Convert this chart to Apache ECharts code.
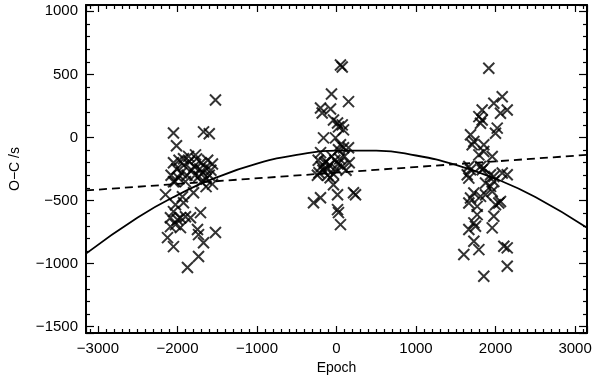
<!DOCTYPE html>
<html>
<head>
<meta charset="utf-8">
<script src="https://cdn.jsdelivr.net/npm/echarts@6/dist/echarts.min.js"></script>
<style>
  html, body { margin: 0; padding: 0; background: #fff; }
  #chart { width: 600px; height: 380px; }
</style>
</head>
<body>
<div id="chart"></div>
<script>
// observations [epoch, O-C], three groups
var groupA = [
  [-2050, 36], [-1672, 44], [-1600, 30], [-2012, -66], [-1522, 297], [-1924, -169], [-1773, -138],
  [-2050, -200], [-2010, -250], [-1980, -180], [-1950, -280], [-1920, -220], [-1880, -300],
  [-1850, -190], [-1820, -260], [-1790, -230], [-1760, -170], [-1730, -310], [-1700, -200],
  [-1680, -280], [-1650, -240], [-1620, -180], [-1600, -300], [-1580, -260], [-1560, -210],
  [-2080, -300], [-2030, -350], [-1990, -320], [-1900, -350], [-1700, -350], [-1640, -330],
  [-1860, -150], [-1780, -300], [-1720, -250], [-1640, -390], [-1560, -370],
  [-2050, -351], [-2150, -453], [-1937, -470], [-1798, -438], [-2025, -533], [-1924, -517],
  [-2050, -588], [-1962, -636], [-2088, -636], [-2000, -652], [-1899, -628], [-1836, -636],
  [-1710, -596], [-2025, -691], [-2088, -707], [-1962, -715], [-1748, -730], [-1735, -770],
  [-1522, -754], [-2125, -794], [-2050, -865], [-1672, -834], [-1735, -944], [-1874, -1031]
];
var groupB = [
  [50, 574], [72, 558], [-63, 345], [151, 284], [-201, 234], [-180, 194], [-75, 226], [-38, 139],
  [13, 115], [72, 100], [88, 60], [25, 84], [-163, -3], [-13, -3], [50, -58], [88, -82],
  [151, -82], [25, -98],
  [-200, -120], [-230, -180], [-190, -230], [-170, -260], [-220, -280], [-240, -300],
  [-150, -200], [-120, -250], [-90, -220], [-60, -150], [-40, -290], [40, -170], [70, -230],
  [160, -200], [100, -150], [0, -250], [-110, -300], [-80, -320], [-130, -190], [20, -210],
  [-20, -180], [120, -260],
  [-38, -375], [-289, -517], [-201, -478], [13, -454], [214, -438], [239, -454], [13, -572],
  [25, -596], [50, -691]
];
var groupC = [
  [1915, 548], [2084, 323], [1978, 271], [2147, 218], [2062, 192], [1832, 218], [1790, 165],
  [1832, 139], [1811, 113], [2021, 74], [1999, 34], [1685, 21], [1727, -32], [1706, -58],
  [1852, -58], [1852, -111], [1790, -138], [1958, -151],
  [1664, -230], [1685, -256], [1644, -296], [1664, -322], [1811, -230], [1832, -256],
  [1852, -243], [1937, -296], [1978, -309], [2084, -282], [2147, -296],
  [1874, -361], [1937, -388], [1978, -349], [1727, -440], [1685, -480], [1811, -467],
  [1874, -454], [1958, -428],
  [1664, -519], [1769, -546], [1999, -533], [2041, -519], [2062, -507], [1769, -612],
  [1978, -625], [1727, -677], [1748, -704], [1664, -730], [1958, -717], [1727, -823],
  [1790, -889], [1601, -928], [2104, -862], [2147, -875], [2147, -1021], [1852, -1100]
];

// quadratic fit (solid) and linear fit (dashed)
var fitEpoch = [-3150, -2500, -2000, -1500, -1000, -500, 0, 500, 1000, 1500, 2000, 2500, 3150];
var quadFit = [-921, -635, -457, -315, -208, -138, -104, -105, -143, -217, -327, -472, -716];
var lineEpoch = [-3150, 3150];
var lineFit = [-420, -138];

var font = 'Liberation Sans, Arial, sans-serif';

function fmt(v) {
  if (v % 500 !== 0) return '';
  return v < 0 ? '\u2212' + (-v) : String(v);
}

function xAxisCfg(pos, labels) {
  return {
    type: 'value',
    position: pos,
    min: -3150,
    max: 3150,
    splitNumber: 6,
    name: labels ? 'Epoch' : '',
    nameLocation: 'middle',
    nameGap: 28,
    nameTextStyle: { color: '#000', fontSize: 14, fontFamily: font },
    axisLine: { show: true, onZero: false, lineStyle: { color: '#000', width: 2 } },
    axisTick: { show: true, inside: true, length: 7, lineStyle: { color: '#000', width: 1.2 } },
    minorTick: { show: true, splitNumber: 10, length: 4, lineStyle: { color: '#000', width: 1.2 } },
    splitLine: { show: false },
    axisLabel: {
      show: labels,
      color: '#000',
      fontSize: 15,
      fontFamily: font,
      margin: 8,
      formatter: function (v) { return v % 1000 === 0 ? fmt(v) : ''; }
    }
  };
}

function yAxisCfg(pos, labels) {
  return {
    type: 'value',
    position: pos,
    min: -1550,
    max: 1050,
    splitNumber: 5,
    name: labels ? 'O\u2212C /s' : '',
    nameLocation: 'middle',
    nameGap: 64,
    nameTextStyle: { color: '#000', fontSize: 14, fontFamily: font },
    axisLine: { show: true, onZero: false, lineStyle: { color: '#000', width: 2 } },
    axisTick: { show: true, inside: true, length: 8, lineStyle: { color: '#000', width: 1.2 } },
    minorTick: { show: true, splitNumber: 5, length: 4, lineStyle: { color: '#000', width: 1.2 } },
    splitLine: { show: false },
    axisLabel: {
      show: labels,
      color: '#000',
      fontSize: 15,
      fontFamily: font,
      margin: 8,
      formatter: fmt
    }
  };
}

var crossStyle = {
  type: 'scatter',
  symbol: 'path://M0,0L10,10M10,0L0,10',
  symbolSize: 11,
  itemStyle: { color: 'rgba(0,0,0,0)', borderColor: '#000', borderWidth: 2 },
  emphasis: { disabled: true },
  silent: true
};

function zip(xs, ys) {
  return xs.map(function (x, i) { return [x, ys[i]]; });
}

var option = {
  animation: false,
  backgroundColor: '#fff',
  grid: { left: 86, right: 13, top: 5, bottom: 46 },
  xAxis: [xAxisCfg('bottom', true), xAxisCfg('top', false)],
  yAxis: [yAxisCfg('left', true), yAxisCfg('right', false)],
  series: [
    Object.assign({ data: groupA }, crossStyle),
    Object.assign({ data: groupB }, crossStyle),
    Object.assign({ data: groupC }, crossStyle),
    {
      type: 'line',
      data: zip(fitEpoch, quadFit),
      smooth: true,
      showSymbol: false,
      lineStyle: { color: '#000', width: 1.8 },
      silent: true
    },
    {
      type: 'line',
      data: zip(lineEpoch, lineFit),
      showSymbol: false,
      lineStyle: { color: '#000', width: 1.8, type: [8, 5] },
      silent: true
    }
  ]
};

var chartDom = document.getElementById('chart');
var myChart = echarts.init(chartDom);
myChart.setOption(option);
</script>
</body>
</html>
